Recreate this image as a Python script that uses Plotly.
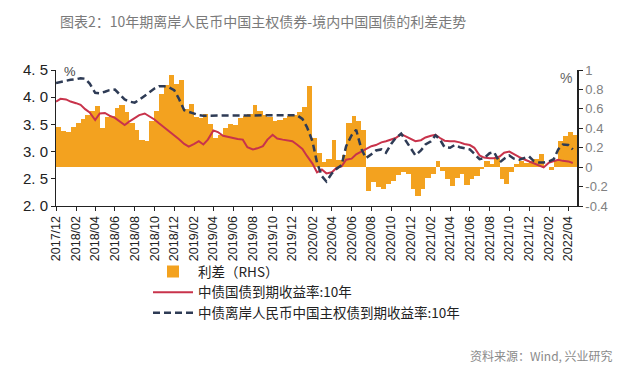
import pandas as pd
import plotly.graph_objects as go

# Semi-monthly observation dates (1st and 15th), Dec 2017 - Apr 2022
dates = pd.date_range("2017-12-01", periods=106, freq="SMS")

# 中债国债到期收益率:10年 (left axis, %)
onshore = [3.92, 3.97, 3.96, 3.92, 3.89, 3.86, 3.78, 3.72, 3.58, 3.70, 3.71, 3.66, 3.62, 3.56, 3.49, 3.55,
           3.61, 3.67, 3.70, 3.65, 3.59, 3.52, 3.44, 3.38, 3.31, 3.23, 3.14, 3.09, 3.14, 3.19, 3.13, 3.22,
           3.39, 3.36, 3.29, 3.27, 3.25,
           3.23, 3.22, 3.08, 3.04, 3.06, 3.10, 3.22, 3.31, 3.24, 3.22, 3.20, 3.19, 3.13, 3.05, 2.92, 2.78,
           2.62, 2.67, 2.60, 2.62, 2.70, 2.73, 2.85, 2.87, 2.95, 3.00, 3.05, 3.10, 3.12, 3.17, 3.19, 3.22,
           3.25, 3.32, 3.28,
           3.22, 3.19, 3.21, 3.26, 3.29, 3.31, 3.25, 3.20, 3.19, 3.19, 3.17, 3.14, 3.12, 3.07, 2.93, 2.89,
           2.88, 2.88, 2.91, 2.98, 3.00, 2.95, 2.90, 2.86, 2.82, 2.78, 2.75, 2.71, 2.80, 2.83, 2.85, 2.83,
           2.82, 2.79]

# 中债离岸人民币中国主权债到期收益率:10年 (left axis, %)
offshore = [4.26, 4.28, 4.30, 4.32, 4.33, 4.35, 4.34, 4.25, 4.08, 4.07, 4.10, 4.13, 4.14, 4.05, 3.96, 3.92,
            3.90, 3.95, 4.02, 4.09, 4.16, 4.20, 4.20, 4.18, 4.13, 3.98, 3.76, 3.73, 3.69, 3.67, 3.66, 3.66,
            3.66, 3.67, 3.67, 3.67, 3.67,
            3.67, 3.67, 3.67, 3.67, 3.67, 3.67, 3.67, 3.67, 3.67, 3.67, 3.67, 3.67, 3.67, 3.60, 3.45, 3.19,
            2.80, 2.55, 2.45, 2.60, 2.68, 2.75, 3.10, 3.30, 3.40, 3.05, 2.88, 2.95, 3.02, 3.04, 2.98, 3.14,
            3.25, 3.33, 3.20,
            3.07, 2.93, 3.02, 3.13, 3.19, 3.30, 3.22, 3.08, 3.07, 3.12, 3.08, 3.06, 3.04, 2.96, 2.86, 2.88,
            2.97, 2.99, 2.80, 2.87, 2.93, 2.87, 2.85, 2.88, 2.91, 2.83, 2.80, 2.80, 2.82, 2.86, 3.04, 3.13,
            3.12, 3.04]

# 利差 (RHS, %)
spread = [0.41, 0.37, 0.36, 0.41, 0.45, 0.50, 0.54, 0.58, 0.63, 0.40, 0.52, 0.53, 0.61, 0.64, 0.57, 0.45,
          0.38, 0.28, 0.27, 0.47, 0.58, 0.75, 0.85, 0.95, 0.86, 0.90, 0.60, 0.65, 0.52, 0.51, 0.55, 0.44,
          0.30, 0.33, 0.40, 0.44, 0.43,
          0.51, 0.53, 0.55, 0.64, 0.58, 0.54, 0.52, 0.48, 0.49, 0.51, 0.53, 0.54, 0.57, 0.62, 0.84, 0.30,
          0.15, 0.05, 0.08, 0.28, 0.07, 0.12, 0.45, 0.53, 0.48, 0.38, -0.25, -0.15, -0.20, -0.22, -0.17,
          -0.14, -0.08, -0.05, -0.07,
          -0.22, -0.30, -0.22, -0.11, -0.07, 0.06, -0.04, -0.12, -0.19, -0.11, -0.07, -0.18, -0.12, -0.09,
          -0.02, 0.06, 0.03, 0.09, -0.12, -0.17, -0.05, 0.03, 0.06, 0.04, 0.06, 0.08, 0.14, 0.00, -0.03,
          0.06, 0.27, 0.32, 0.36, 0.33]

# Tick labels
x_tick_dates = pd.date_range("2017-12-01", "2022-04-01", freq="2MS")
x_tick_text = [d.strftime("%Y/%m") for d in x_tick_dates]
left_ticks = [2.0, 2.5, 3.0, 3.5, 4.0, 4.5]
left_tick_text = ["2. 0", "2. 5", "3. 0", "3. 5", "4. 0", "4. 5"]
right_ticks = [-0.4, -0.2, 0, 0.2, 0.4, 0.6, 0.8, 1.0]
right_tick_text = ["-0.4", "-0.2", "0", "0.2", "0.4", "0.6", "0.8", "1"]

ORANGE = "#F3A21F"
RED = "#C8334B"
NAVY = "#2E3B55"
CJK = "Noto Sans CJK SC"

# each bar spans from its date to the next observation date (no gaps)
step = pd.Timedelta(days=14)
bar_widths = [((dates[i + 1] if i + 1 < len(dates) else dates[i] + step) - dates[i]).total_seconds() * 1000
              for i in range(len(dates))]

# page is drawn with an 8px body margin -> figure is 8px smaller, positions shifted
OFF = 8
W, H = 640 - OFF, 380 - OFF
PL, PR, PT, PB = 56 - OFF, 577 - OFF, 70 - OFF, 206.5 - OFF  # plot area in figure px
PW, PH = PR - PL, PB - PT


def px(x):
    return (x - OFF - PL) / PW


def py(y):
    return (PB - (y - OFF)) / PH


fig = go.Figure()
fig.add_trace(go.Bar(x=dates, y=spread, name="利差（RHS）", yaxis="y",
                     width=bar_widths, offset=0,
                     marker=dict(color=ORANGE, line=dict(width=0))))
fig.add_trace(go.Scatter(x=dates, y=onshore, name="中债国债到期收益率:10年", yaxis="y2",
                         mode="lines", line=dict(color=RED, width=2)))
fig.add_trace(go.Scatter(x=dates, y=offshore, name="中债离岸人民币中国主权债到期收益率:10年", yaxis="y2",
                         mode="lines", line=dict(color=NAVY, width=2.5, dash="7px,4px")))

fig.update_layout(
    width=W, height=H,
    margin=dict(l=PL, r=W - PR, t=PT, b=H - PB, autoexpand=False),
    paper_bgcolor="white", plot_bgcolor="white",
    bargap=0,
    showlegend=True,
    title=dict(text="图表2：10年期离岸人民币中国主权债券-境内中国国债的利差走势",
               x=(60 - OFF) / W, xanchor="left", y=1 - (22 - OFF) / H, yanchor="middle",
               font=dict(family=CJK, size=14, color="#7a7a7a")),
    xaxis=dict(type="date", range=["2017-12-01", "2022-04-28"],
               tickvals=x_tick_dates, ticktext=x_tick_text, tickangle=-90,
               tickfont=dict(family="Liberation Sans", size=12.5, color="#222"),
               showline=True, linecolor="#222", linewidth=1,
               ticks="outside", ticklen=4, tickcolor="#222", showgrid=False, zeroline=False),
    yaxis=dict(side="right", range=[-0.4, 1.0], tickvals=right_ticks, ticktext=right_tick_text,
               tickfont=dict(family="Liberation Sans", size=13, color="#808080"),
               showline=True, linecolor="#222", linewidth=1.5,
               ticks="outside", ticklen=4, tickcolor="#222", showgrid=False, zeroline=False),
    yaxis2=dict(overlaying="y", side="left", range=[2.0, 4.5], tickvals=left_ticks, ticktext=left_tick_text,
                tickfont=dict(family="Liberation Sans", size=15, color="#222"),
                showline=True, linecolor="#222", linewidth=1,
                ticks="outside", ticklen=4, tickcolor="#222", showgrid=False, zeroline=False),
    legend=dict(x=px(148), xanchor="left", y=py(257), yanchor="top", orientation="v",
                font=dict(family=CJK, size=13.5, color="#222"),
                tracegroupgap=0, itemwidth=40, bgcolor="rgba(0,0,0,0)"),
)

fig.add_annotation(text="%", xref="paper", yref="paper", x=px(70), y=py(72),
                   xanchor="center", yanchor="middle", showarrow=False,
                   font=dict(family="Liberation Sans", size=13, color="#444"))
fig.add_annotation(text="%", xref="paper", yref="paper", x=px(566), y=py(78),
                   xanchor="center", yanchor="middle", showarrow=False,
                   font=dict(family="Liberation Sans", size=14, color="#666"))
fig.add_annotation(text="资料来源：Wind, 兴业研究", xref="paper", yref="paper",
                   x=px(615), y=py(357),
                   xanchor="right", yanchor="middle", showarrow=False,
                   font=dict(family=CJK, size=12, color="#8a8a8a"))

fig.write_html("out.html")
